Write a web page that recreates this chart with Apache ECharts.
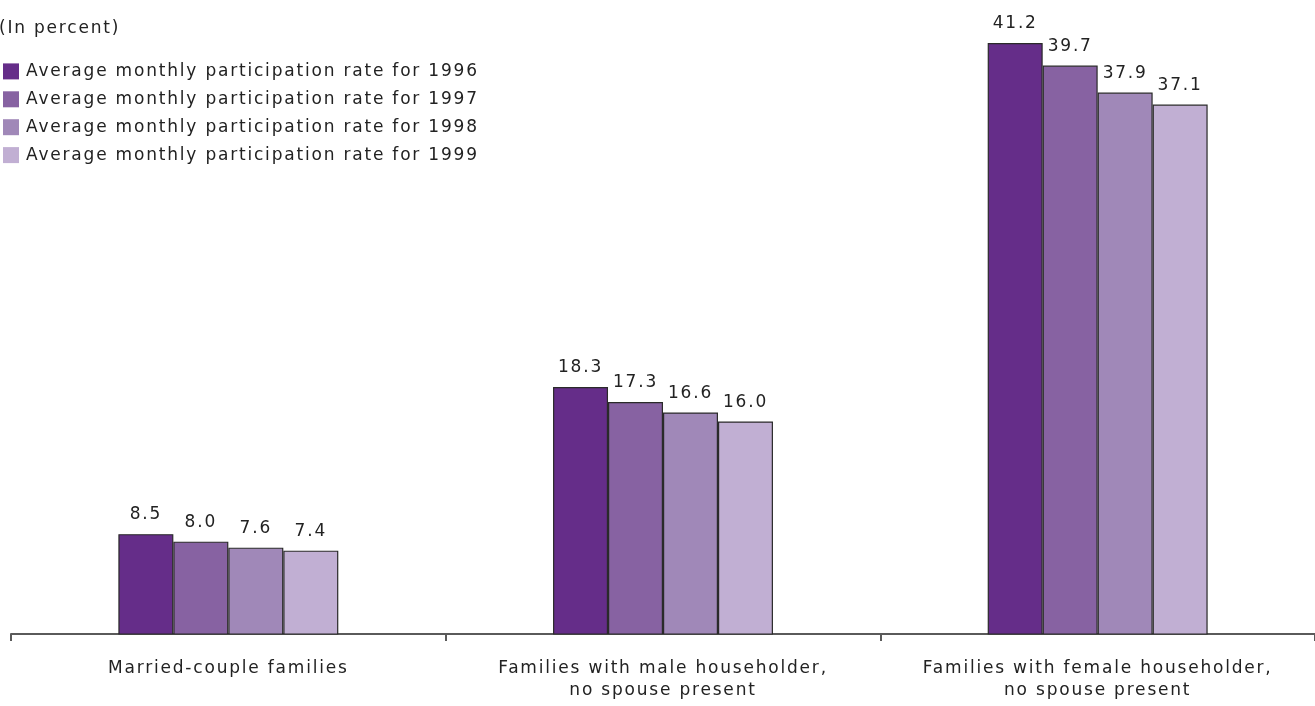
<!DOCTYPE html>
<html>
<head>
<meta charset="utf-8">
<script src="https://cdn.jsdelivr.net/npm/echarts@6/dist/echarts.min.js"></script>
<style>
  html, body { margin: 0; padding: 0; background: #fff; }
  #chart { width: 1315px; height: 706px; }
</style>
</head>
<body>
<div id="chart"></div>
<script>
// Family types along the x axis
const categories = [
  'Married-couple families',
  'Families with male householder,\nno spouse present',
  'Families with female householder,\nno spouse present'
];

// Average monthly participation rate, in percent, one array per year
const years = ['1996', '1997', '1998', '1999'];
const rate1996 = [8.5, 18.3, 41.2];
const rate1997 = [8.0, 17.3, 39.7];
const rate1998 = [7.6, 16.6, 37.9];
const rate1999 = [7.4, 16.0, 37.1];
const seriesValues = [rate1996, rate1997, rate1998, rate1999];

const colors = ['#652D89', '#8762A2', '#A088B8', '#C1AFD3'];
const FONT = 'DejaVu Sans';
const FONT_SIZE = 17;

// Loose tracking on all chart text: applied to both measuring and drawing
// so that ECharts lays labels out with the widened glyph runs.
(function () {
  const proto = CanvasRenderingContext2D.prototype;
  const TRACKING = '1.8px';
  const origFill = proto.fillText;
  const origMeasure = proto.measureText;
  proto.fillText = function () {
    this.letterSpacing = TRACKING;
    return origFill.apply(this, arguments);
  };
  proto.measureText = function () {
    this.letterSpacing = TRACKING;
    return origMeasure.apply(this, arguments);
  };
})();

const chart = echarts.init(document.getElementById('chart'), null, { renderer: 'canvas' });

chart.setOption({
  animation: false,
  textStyle: { fontFamily: FONT },
  graphic: [{
    type: 'text',
    left: -1,
    top: 19,
    style: { text: '(In percent)', font: FONT_SIZE + 'px "DejaVu Sans"', fill: '#222' }
  }],
  legend: {
    orient: 'vertical',
    left: 3,
    top: 62,
    padding: 0,
    itemWidth: 16,
    itemHeight: 16,
    itemGap: 9.1,
    icon: 'rect',
    itemStyle: { borderWidth: 0 },
    textStyle: {
      fontFamily: FONT, fontSize: FONT_SIZE, lineHeight: 16, color: '#222',
      padding: [0, 0, 0, 2]
    },
    data: years.map(y => 'Average monthly participation rate for ' + y)
  },
  grid: { left: 11, right: 0, top: 10, bottom: 72, containLabel: false },
  xAxis: {
    type: 'category',
    data: categories,
    axisLine: { lineStyle: { color: '#5a5a5a', width: 2 } },
    axisTick: { show: true, length: 7, lineStyle: { color: '#5a5a5a', width: 2 } },
    axisLabel: {
      interval: 0,
      margin: 24,
      fontFamily: FONT,
      fontSize: FONT_SIZE,
      lineHeight: 22,
      color: '#222',
      align: 'center'
    }
  },
  yAxis: {
    type: 'value',
    min: 1.85,
    max: 43.4,
    show: false,
    splitLine: { show: false }
  },
  series: seriesValues.map((vals, i) => ({
    name: 'Average monthly participation rate for ' + years[i],
    type: 'bar',
    data: vals,
    barGap: '0%',
    barCategoryGap: '49.4%',
    itemStyle: { color: colors[i], borderColor: '#2a2a2a', borderWidth: 1.2 },
    label: {
      show: true,
      position: 'top',
      distance: 10,
      fontFamily: FONT,
      fontSize: FONT_SIZE,
      color: '#222',
      formatter: p => p.value.toFixed(1)
    }
  }))
});
</script>
</body>
</html>
